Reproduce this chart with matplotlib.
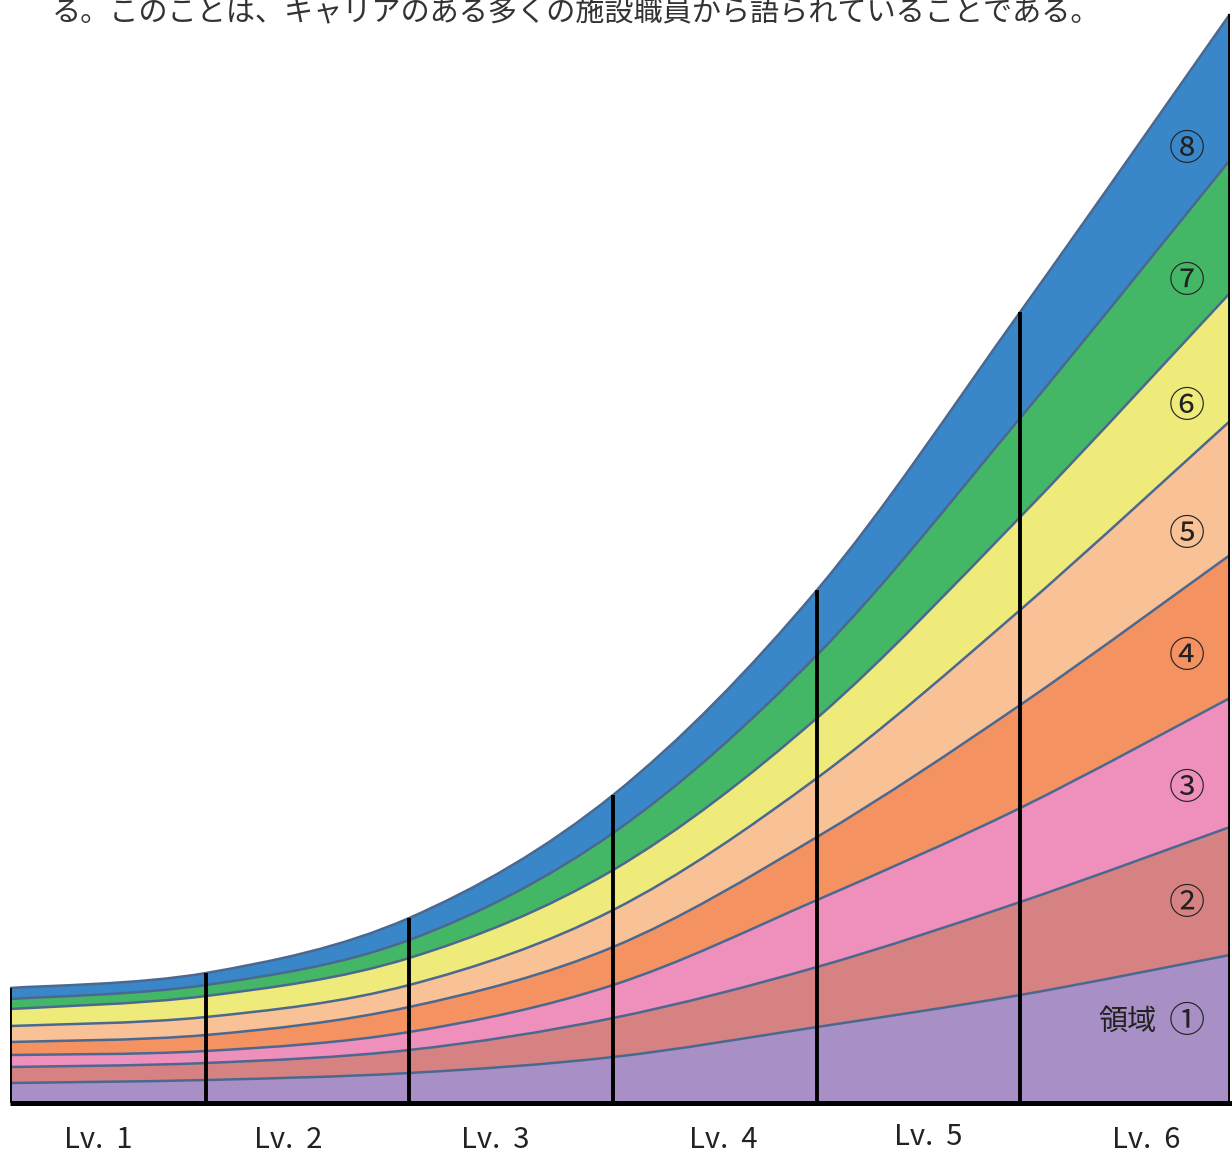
import numpy as np
import matplotlib
matplotlib.use("Agg")
import matplotlib.pyplot as plt
from matplotlib.path import Path
from matplotlib.patches import PathPatch

plt.rcParams['font.family'] = ['Noto Sans CJK JP', 'DejaVu Sans']

# level boundaries (x) and the thickness of each area at those boundaries
level_x = [0, 0.964, 1.963, 2.966, 3.969, 4.968, 6.0]
area1 = [20, 23, 30, 46, 76, 108, 148]
area2 = [16, 17, 23, 39, 60, 93, 128]
area3 = [12, 12, 18, 33, 67, 94, 129]
area4 = [13, 16, 25, 38, 63, 103, 143]
area5 = [16, 18, 22, 37, 59, 95, 134]
area6 = [17, 21, 27, 40, 60, 93, 128]
area7 = [10, 11, 18, 37, 63, 99, 133]
area8 = [11, 12, 22, 38, 65, 106, 146]
areas = [area1, area2, area3, area4, area5, area6, area7, area8]
area_labels = ['①', '②', '③', '④', '⑤', '⑥', '⑦', '⑧']
area_title = '領域'
level_labels = ['Lv.  1', 'Lv.  2', 'Lv.  3', 'Lv.  4', 'Lv.  5', 'Lv.  6']
top_text = 'る。このことは、キャリアのある多くの施設職員から語られていることである。'

colors = ['#a890c6', '#d68282', '#ef8fbb', '#f59262',
          '#f8c196', '#eeeb7a', '#44b766', '#3987c9']
line_col = '#4a6890'


def bezier_pts(xs, ys):
    # catmull-rom -> cubic bezier control points
    xs = np.asarray(xs, float)
    ys = np.asarray(ys, float)
    n = len(xs)
    verts = [(xs[0], ys[0])]
    for i in range(n - 1):
        i0 = max(i - 1, 0)
        i3 = min(i + 2, n - 1)
        c1 = (xs[i] + (xs[i + 1] - xs[i0]) / 6, ys[i] + (ys[i + 1] - ys[i0]) / 6)
        c2 = (xs[i + 1] - (xs[i3] - xs[i]) / 6, ys[i + 1] - (ys[i3] - ys[i]) / 6)
        verts += [c1, c2, (xs[i + 1], ys[i + 1])]
    return verts


W, H = 1232, 1153
fig = plt.figure(figsize=(W / 100, H / 100), dpi=100)
ax = fig.add_axes([10 / W, 50 / H, 1220 / W, 1103 / H])
ax.set_xlim(0, 6)
ax.set_ylim(0, 1103)
ax.set_axis_off()

cum = np.cumsum(np.array(areas, float), axis=0)
lower = np.zeros(len(level_x))
for k in range(len(areas)):
    upper = cum[k]
    up = bezier_pts(level_x, upper)
    lo = bezier_pts(level_x[::-1], lower[::-1])
    verts = up + [lo[0]] + lo[1:] + [up[0]]
    codes = ([Path.MOVETO] + [Path.CURVE4] * (len(up) - 1) + [Path.LINETO]
             + [Path.CURVE4] * (len(lo) - 1) + [Path.CLOSEPOLY])
    ax.add_patch(PathPatch(Path(verts, codes), facecolor=colors[k],
                           edgecolor='none', zorder=1))
    lower = upper

# boundary lines
for k in range(len(areas)):
    up = bezier_pts(level_x, cum[k])
    codes = [Path.MOVETO] + [Path.CURVE4] * (len(up) - 1)
    ax.add_patch(PathPatch(Path(up, codes), facecolor='none',
                           edgecolor=line_col, lw=1.8, zorder=2))

# level separators
ax.vlines(level_x, 0, cum[-1], colors='black', lw=2.8, zorder=3)
ax.plot([0, 6.05], [0, 0], color='black', lw=3.6, zorder=4, clip_on=False,
        solid_capstyle='butt')

# area labels
label_y = [81, 199, 314, 446, 568, 696, 821, 953]
for lab, yy in zip(area_labels, label_y):
    ax.text(5.789, yy, lab, ha='center', va='center', fontsize=26,
            color='#222222', zorder=5)
ax.text(5.64, label_y[0], area_title, ha='right', va='center', fontsize=21,
        color='#222222', zorder=5)

# level labels
lab_x = [0.433, 1.367, 2.386, 3.51, 4.515, 5.587]
lab_dy = [-37, -37, -37, -37, -34, -37]
for lab, xx, yy in zip(level_labels, lab_x, lab_dy):
    ax.text(xx, yy, lab, ha='center', va='center', fontsize=21,
            color='#222222', clip_on=False)

fig.text(52 / W, 1 - 13 / H, top_text, ha='left', va='center', fontsize=21,
         color='#333333')

fig.savefig('out.png', dpi=100)
